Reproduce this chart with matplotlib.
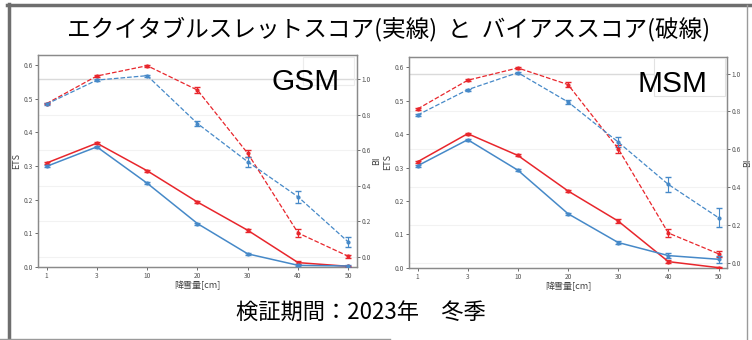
import matplotlib
matplotlib.use('Agg')
import matplotlib.pyplot as plt
from matplotlib.lines import Line2D
from matplotlib.patches import Rectangle

plt.rcParams['font.family'] = ['Noto Sans CJK JP', 'DejaVu Sans']

# 降雪量の閾値（カテゴリ）
thresholds = ['1', '3', '10', '20', '30', '40', '50']

# GSM
gsm_ets_red = [0.309, 0.368, 0.286, 0.193, 0.109, 0.013, 0.002]
gsm_ets_red_err = [0.003, 0.003, 0.003, 0.003, 0.005, 0.004, 0.002]
gsm_ets_blue = [0.299, 0.357, 0.249, 0.129, 0.039, 0.005, 0.003]
gsm_ets_blue_err = [0.003, 0.003, 0.003, 0.003, 0.003, 0.003, 0.004]
gsm_bi_red = [0.862, 1.017, 1.075, 0.938, 0.582, 0.135, 0.004]
gsm_bi_red_err = [0.005, 0.005, 0.006, 0.015, 0.02, 0.023, 0.008]
gsm_bi_blue = [0.859, 0.994, 1.019, 0.75, 0.535, 0.338, 0.084]
gsm_bi_blue_err = [0.005, 0.005, 0.006, 0.014, 0.028, 0.034, 0.028]

# MSM
msm_ets_red = [0.317, 0.401, 0.336, 0.230, 0.140, 0.019, 0.001]
msm_ets_red_err = [0.003, 0.003, 0.003, 0.004, 0.007, 0.005, 0.002]
msm_ets_blue = [0.305, 0.383, 0.292, 0.162, 0.076, 0.037, 0.026]
msm_ets_blue_err = [0.003, 0.003, 0.003, 0.003, 0.004, 0.008, 0.01]
msm_bi_red = [0.813, 0.965, 1.030, 0.942, 0.603, 0.157, 0.047]
msm_bi_red_err = [0.005, 0.005, 0.006, 0.013, 0.022, 0.02, 0.017]
msm_bi_blue = [0.781, 0.915, 1.005, 0.850, 0.638, 0.414, 0.238]
msm_bi_blue_err = [0.005, 0.005, 0.006, 0.01, 0.025, 0.038, 0.05]

RED = '#e8262c'
BLUE = '#4689c8'
GRAY = '#8a8a8a'


def draw_panel(ax, ets_r, ets_r_e, ets_b, ets_b_e, bi_r, bi_r_e, bi_b, bi_b_e,
               bi_lim):
    x = range(len(thresholds))
    ax2 = ax.twinx()

    # 薄いグリッド（BI 目盛り）
    for v in [0.0, 0.2, 0.4, 0.6, 0.8]:
        ax2.axhline(v, color='#f2f2f2', lw=0.8, zorder=0)
    ax2.axhline(1.0, color='#dadada', lw=1.0, zorder=0)

    # ETS（実線）
    for vals, errs, col in [(ets_r, ets_r_e, RED), (ets_b, ets_b_e, BLUE)]:
        ax.errorbar(x, vals, yerr=errs, color=col, lw=1.1, marker='o', ms=2,
                    capsize=2.5, elinewidth=0.8, ecolor=col, zorder=3)
    # BI（破線）
    for vals, errs, col in [(bi_r, bi_r_e, RED), (bi_b, bi_b_e, BLUE)]:
        ax2.errorbar(x, vals, yerr=errs, color=col, lw=0.9, ls='--', marker='o',
                     ms=2, capsize=2.5, elinewidth=0.8, ecolor=col, zorder=3)

    ax.set_xlim(-0.17, len(thresholds) - 1 + 0.17)
    ax.set_ylim(0, 0.63)
    ax2.set_ylim(*bi_lim)
    ax.set_xticks(list(x))
    ax.set_xticklabels(thresholds)
    ax.set_yticks([0.0, 0.1, 0.2, 0.3, 0.4, 0.5, 0.6])
    ax2.set_yticks([0.0, 0.2, 0.4, 0.6, 0.8, 1.0])
    for a in (ax, ax2):
        a.tick_params(labelsize=4.8, colors='#555555', length=2, width=0.6,
                      pad=1.5)
        for s in a.spines.values():
            s.set_color(GRAY)
            s.set_linewidth(0.9)
    ax.set_xlabel('降雪量[cm]', fontsize=6.5, color='#444444', labelpad=1)
    ax.set_ylabel('ETS', fontsize=6.5, color='#444444', labelpad=2)
    ax2.set_ylabel('BI', fontsize=6.5, color='#444444', labelpad=1)
    ax.set_zorder(ax2.get_zorder() + 1)
    ax.patch.set_visible(False)
    return ax2


fig = plt.figure(figsize=(7.52, 3.40), dpi=100, facecolor='white')

ax_g = fig.add_axes([0.0505, 0.2147, 0.4242, 0.6235])
ax_m = fig.add_axes([0.5439, 0.2118, 0.4229, 0.6206])

draw_panel(ax_g, gsm_ets_red, gsm_ets_red_err, gsm_ets_blue, gsm_ets_blue_err,
           gsm_bi_red, gsm_bi_red_err, gsm_bi_blue, gsm_bi_blue_err,
           (-0.056, 1.135))
draw_panel(ax_m, msm_ets_red, msm_ets_red_err, msm_ets_blue, msm_ets_blue_err,
           msm_bi_red, msm_bi_red_err, msm_bi_blue, msm_bi_blue_err,
           (-0.028, 1.088))

# 凡例枠（空）とモデル名
ax_m.add_patch(Rectangle((0.77, 0.815), 0.225, 0.18, transform=ax_m.transAxes,
                         facecolor='white', edgecolor='#e2e2e2', lw=0.8, zorder=5))
ax_g.add_patch(Rectangle((0.83, 0.86), 0.16, 0.13, transform=ax_g.transAxes,
                         facecolor='none', edgecolor='#ececec', lw=0.8, zorder=5))
ax_g.text(0.84, 0.875, 'GSM', transform=ax_g.transAxes, ha='center', va='center',
          fontsize=21.5, family=['Liberation Sans'], color='black', zorder=6)
ax_m.text(0.83, 0.87, 'MSM', transform=ax_m.transAxes, ha='center', va='center',
          fontsize=21.5, family=['Liberation Sans'], color='black', zorder=6)

fig.text(0.517, 0.913, 'エクイタブルスレットスコア(実線)  と  バイアススコア(破線)',
         ha='center', va='center', fontsize=17, color='black')
fig.text(0.48, 0.082, '検証期間：2023年　冬季', ha='center', va='center',
         fontsize=16, color='black')

# スライド枠線
W, H = 752, 340
fig.add_artist(Line2D([7 / W, 1], [1 - 5 / H, 1 - 5 / H], color='#6e6e6e', lw=2.5))
fig.add_artist(Line2D([9 / W, 9 / W], [0, 1 - 4 / H], color='#6e6e6e', lw=2.5))
fig.add_artist(Line2D([747 / W, 747 / W], [0, 1 - 5 / H], color='#9a9a9a', lw=1.0))
fig.add_artist(Line2D([0, 390 / W], [1.5 / H, 1.5 / H], color='#9a9a9a', lw=1.0))

fig.savefig('out.png', dpi=100, facecolor='white')
